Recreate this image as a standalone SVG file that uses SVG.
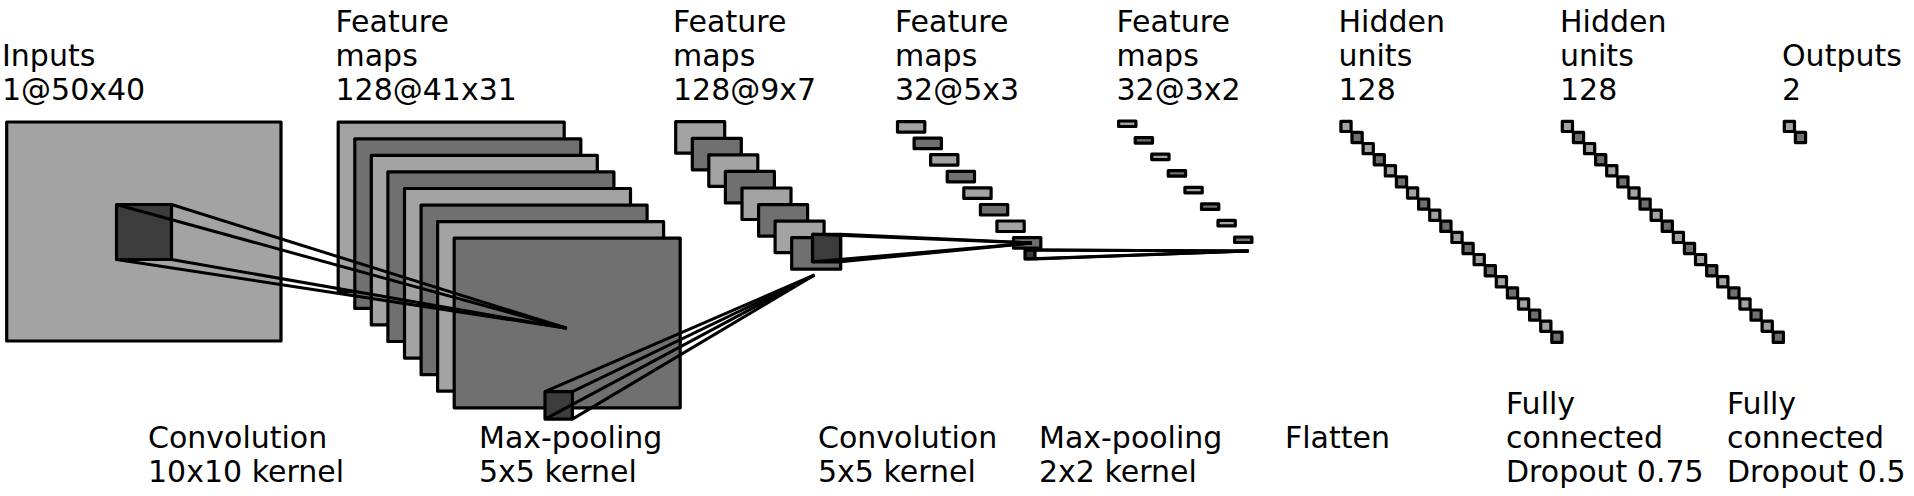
<svg xmlns="http://www.w3.org/2000/svg" width="1914" height="496" viewBox="0 0 1914 496">
<style>
text{font-family:"DejaVu Sans","Liberation Sans",sans-serif;font-size:30px;fill:#000}
rect{stroke:#000;stroke-width:3.2;stroke-linejoin:round}
.l{fill:#a3a3a3}
.d{fill:#707070}
.k{fill:#3c3c3c}
.conn line{stroke:#000;stroke-width:3;stroke-linecap:butt}
</style>
<rect x="0" y="0" width="1914" height="496" style="fill:#fff;stroke:none"/>

<g id="layer-input">
<rect class="l" x="6.7" y="122" width="274.3" height="219"/>
<text x="2" y="65.5">Inputs</text>
<text x="2" y="100">1@50x40</text>
</g>

<g id="layer-conv1">
<rect class="l" x="338.2" y="122.2" width="226" height="169.6"/>
<rect class="d" x="354.8" y="138.8" width="226" height="169.6"/>
<rect class="l" x="371.3" y="155.3" width="226" height="169.6"/>
<rect class="d" x="387.9" y="171.9" width="226" height="169.6"/>
<rect class="l" x="404.5" y="188.5" width="226" height="169.6"/>
<rect class="d" x="421.1" y="205.1" width="226" height="169.6"/>
<rect class="l" x="437.6" y="221.6" width="226" height="169.6"/>
<rect class="d" x="454.2" y="238.2" width="226" height="169.6"/>
<text x="335.5" y="31.5">Feature</text>
<text x="335.5" y="65.5">maps</text>
<text x="335.5" y="100">128@41x31</text>
</g>

<g id="layer-pool1">
<rect class="l" x="675.7" y="121.7" width="49" height="31.5"/>
<rect class="d" x="692.3" y="138.3" width="49" height="31.5"/>
<rect class="l" x="708.8" y="154.8" width="49" height="31.5"/>
<rect class="d" x="725.4" y="171.4" width="49" height="31.5"/>
<rect class="l" x="742.0" y="188.0" width="49" height="31.5"/>
<rect class="d" x="758.6" y="204.6" width="49" height="31.5"/>
<rect class="l" x="775.1" y="221.1" width="49" height="31.5"/>
<rect class="d" x="791.7" y="237.7" width="49" height="31.5"/>
<text x="673" y="31.5">Feature</text>
<text x="673" y="65.5">maps</text>
<text x="673" y="100">128@9x7</text>
</g>

<g id="layer-conv2">
<rect class="l" x="897.5" y="121.6" width="27.3" height="10.5"/>
<rect class="d" x="914.1" y="138.2" width="27.3" height="10.5"/>
<rect class="l" x="930.6" y="154.7" width="27.3" height="10.5"/>
<rect class="d" x="947.2" y="171.3" width="27.3" height="10.5"/>
<rect class="l" x="963.8" y="187.9" width="27.3" height="10.5"/>
<rect class="d" x="980.4" y="204.5" width="27.3" height="10.5"/>
<rect class="l" x="996.9" y="221.0" width="27.3" height="10.5"/>
<rect class="d" x="1013.5" y="237.6" width="27.3" height="10.5"/>
<text x="895" y="31.5">Feature</text>
<text x="895" y="65.5">maps</text>
<text x="895" y="100">32@5x3</text>
</g>

<g id="layer-pool2">
<rect class="l" x="1118.6" y="121" width="17.3" height="5.5"/>
<rect class="d" x="1135.2" y="137.6" width="17.3" height="5.5"/>
<rect class="l" x="1151.7" y="154.1" width="17.3" height="5.5"/>
<rect class="d" x="1168.3" y="170.7" width="17.3" height="5.5"/>
<rect class="l" x="1184.9" y="187.3" width="17.3" height="5.5"/>
<rect class="d" x="1201.5" y="203.9" width="17.3" height="5.5"/>
<rect class="l" x="1218.0" y="220.4" width="17.3" height="5.5"/>
<rect class="d" x="1234.6" y="237.0" width="17.3" height="5.5"/>
<text x="1116.5" y="31.5">Feature</text>
<text x="1116.5" y="65.5">maps</text>
<text x="1116.5" y="100">32@3x2</text>
</g>

<g id="layer-hidden1">
<rect class="l" x="1340.9" y="121.3" width="10.2" height="10.2"/>
<rect class="d" x="1352.0" y="132.4" width="10.2" height="10.2"/>
<rect class="l" x="1363.1" y="143.5" width="10.2" height="10.2"/>
<rect class="d" x="1374.2" y="154.6" width="10.2" height="10.2"/>
<rect class="l" x="1385.3" y="165.7" width="10.2" height="10.2"/>
<rect class="d" x="1396.4" y="176.8" width="10.2" height="10.2"/>
<rect class="l" x="1407.5" y="187.9" width="10.2" height="10.2"/>
<rect class="d" x="1418.6" y="199.0" width="10.2" height="10.2"/>
<rect class="l" x="1429.7" y="210.1" width="10.2" height="10.2"/>
<rect class="d" x="1440.8" y="221.2" width="10.2" height="10.2"/>
<rect class="l" x="1451.9" y="232.3" width="10.2" height="10.2"/>
<rect class="d" x="1463.0" y="243.4" width="10.2" height="10.2"/>
<rect class="l" x="1474.1" y="254.5" width="10.2" height="10.2"/>
<rect class="d" x="1485.2" y="265.6" width="10.2" height="10.2"/>
<rect class="l" x="1496.3" y="276.7" width="10.2" height="10.2"/>
<rect class="d" x="1507.4" y="287.8" width="10.2" height="10.2"/>
<rect class="l" x="1518.5" y="298.9" width="10.2" height="10.2"/>
<rect class="d" x="1529.6" y="310.0" width="10.2" height="10.2"/>
<rect class="l" x="1540.7" y="321.1" width="10.2" height="10.2"/>
<rect class="d" x="1551.8" y="332.2" width="10.2" height="10.2"/>
<text x="1338.5" y="31.5">Hidden</text>
<text x="1338.5" y="65.5">units</text>
<text x="1338.5" y="100">128</text>
</g>

<g id="layer-hidden2">
<rect class="l" x="1562.3" y="121.3" width="10.2" height="10.2"/>
<rect class="d" x="1573.4" y="132.4" width="10.2" height="10.2"/>
<rect class="l" x="1584.5" y="143.5" width="10.2" height="10.2"/>
<rect class="d" x="1595.6" y="154.6" width="10.2" height="10.2"/>
<rect class="l" x="1606.7" y="165.7" width="10.2" height="10.2"/>
<rect class="d" x="1617.8" y="176.8" width="10.2" height="10.2"/>
<rect class="l" x="1628.9" y="187.9" width="10.2" height="10.2"/>
<rect class="d" x="1640.0" y="199.0" width="10.2" height="10.2"/>
<rect class="l" x="1651.1" y="210.1" width="10.2" height="10.2"/>
<rect class="d" x="1662.2" y="221.2" width="10.2" height="10.2"/>
<rect class="l" x="1673.3" y="232.3" width="10.2" height="10.2"/>
<rect class="d" x="1684.4" y="243.4" width="10.2" height="10.2"/>
<rect class="l" x="1695.5" y="254.5" width="10.2" height="10.2"/>
<rect class="d" x="1706.6" y="265.6" width="10.2" height="10.2"/>
<rect class="l" x="1717.7" y="276.7" width="10.2" height="10.2"/>
<rect class="d" x="1728.8" y="287.8" width="10.2" height="10.2"/>
<rect class="l" x="1739.9" y="298.9" width="10.2" height="10.2"/>
<rect class="d" x="1751.0" y="310.0" width="10.2" height="10.2"/>
<rect class="l" x="1762.1" y="321.1" width="10.2" height="10.2"/>
<rect class="d" x="1773.2" y="332.2" width="10.2" height="10.2"/>
<text x="1560" y="31.5">Hidden</text>
<text x="1560" y="65.5">units</text>
<text x="1560" y="100">128</text>
</g>

<g id="layer-output">
<rect class="l" x="1784.3" y="121.3" width="10.2" height="10.2"/>
<rect class="d" x="1795.4" y="132.4" width="10.2" height="10.2"/>
<text x="1782" y="65.5">Outputs</text>
<text x="1782" y="100">2</text>
</g>

<g id="connectors" class="conn">
<rect class="k" x="116.5" y="204.5" width="55" height="55"/>
<line x1="116.5" y1="204.5" x2="566.7" y2="328.3"/>
<line x1="171.5" y1="204.5" x2="566.7" y2="328.3"/>
<line x1="116.5" y1="259.5" x2="566.7" y2="328.3"/>
<line x1="171.5" y1="259.5" x2="566.7" y2="328.3"/>

<rect class="k" x="545" y="391.7" width="27.4" height="27.4"/>
<line x1="545" y1="391.7" x2="814.5" y2="275"/>
<line x1="572.4" y1="391.7" x2="814.5" y2="275"/>
<line x1="545" y1="419.1" x2="814.5" y2="275"/>
<line x1="572.4" y1="419.1" x2="814.5" y2="275"/>

<rect class="k" x="812.5" y="234.3" width="28" height="27.5"/>
<line x1="812.5" y1="234.3" x2="1032" y2="243"/>
<line x1="840.5" y1="234.3" x2="1032" y2="243"/>
<line x1="812.5" y1="261.8" x2="1032" y2="243"/>
<line x1="840.5" y1="261.8" x2="1032" y2="243"/>

<rect class="k" x="1025" y="250" width="10" height="9"/>
<line x1="1025" y1="250" x2="1248.5" y2="251"/>
<line x1="1035" y1="250" x2="1248.5" y2="251"/>
<line x1="1025" y1="259" x2="1248.5" y2="251"/>
<line x1="1035" y1="259" x2="1248.5" y2="251"/>
</g>

<g id="op-labels">
<text x="148" y="448">Convolution</text>
<text x="148" y="482">10x10 kernel</text>
<text x="479" y="448">Max-pooling</text>
<text x="479" y="482">5x5 kernel</text>
<text x="818" y="448">Convolution</text>
<text x="818" y="482">5x5 kernel</text>
<text x="1039" y="448">Max-pooling</text>
<text x="1039" y="482">2x2 kernel</text>
<text x="1285" y="448">Flatten</text>
<text x="1506" y="413.5">Fully</text>
<text x="1506" y="448">connected</text>
<text x="1506" y="482">Dropout 0.75</text>
<text x="1727" y="413.5">Fully</text>
<text x="1727" y="448">connected</text>
<text x="1727" y="482">Dropout 0.5</text>
</g>
</svg>
